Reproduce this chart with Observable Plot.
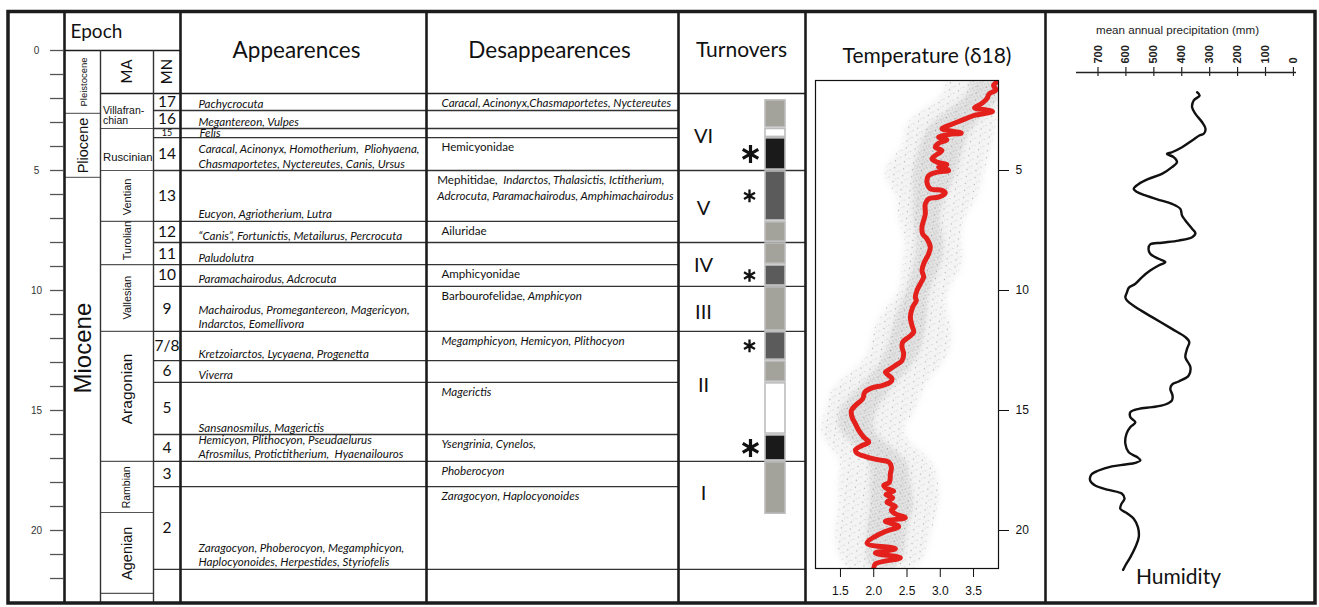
<!DOCTYPE html>
<html><head><meta charset="utf-8">
<script src="https://cdn.jsdelivr.net/npm/d3@7"></script>
<script src="https://cdn.jsdelivr.net/npm/@observablehq/plot@0.6"></script>
<style>
html,body{margin:0;padding:0;background:#fff;}
#wrap{position:relative;width:1319px;height:607px;overflow:hidden;}
#wrap > svg{position:absolute;top:0;}
</style></head><body>
<svg width="0" height="0" style="position:absolute">
 <defs>
  <pattern id="speckle" width="9" height="7" patternUnits="userSpaceOnUse" patternTransform="rotate(7)">
    <circle cx="1.5" cy="1.5" r="0.65" fill="#555" opacity="0.42"/>
    <circle cx="6" cy="4.5" r="0.6" fill="#666" opacity="0.38"/>
    <circle cx="3.5" cy="5.8" r="0.5" fill="#777" opacity="0.32"/>
  </pattern>
  <pattern id="speckle2" width="5" height="4" patternUnits="userSpaceOnUse" patternTransform="rotate(23)">
    <circle cx="1" cy="1" r="0.6" fill="#444" opacity="0.38"/>
    <circle cx="3.5" cy="3" r="0.55" fill="#555" opacity="0.33"/>
  </pattern>
 </defs>
</svg>
<div id="wrap"></div>
<script>
// ---------------- DATA ----------------
const maTicks = [0,1,2,3,4,5,6,7,8,9,10,11,12,13,14,15,16,17,18,19,20,21,22];
const maTickLabels = [0,5,10,15,20];

const epochNames = ["Pleistocene","Pliocene","Miocene"];
const epochBounds = [0, 2.62, 5.29, 23.1];
const epochLabelAt = [1.31, 3.96, 12.4];

const stageNames = ["Villafran-\nchian","Ruscinian","Ventian","Turolian","Vallesian","Aragonian","Rambian","Agenian"];
const stageBounds = [1.79, 3.25, 5.0, 7.12, 8.92, 11.7, 17.12, 19.25, 22.62];
const stageLabelAt = [2.71, 4.46, 6.1, 7.92, 10.3, 14.1, 18.2, 20.95];

const mnNames = ["17","16","15","14","13","12","11","10","9","7/8","6","5","4","3","2",""];
const mnBounds = [1.79, 2.5, 3.25, 3.63, 5.0, 7.12, 8.0, 8.92, 9.83, 11.7, 12.92, 13.83, 16.0, 17.12, 18.17, 21.62, 23.1];

const appearances = [
 "Pachycrocuta",
 "Megantereon, Vulpes",
 "Felis",
 "Caracal, Acinonyx, Homotherium,  Pliohyaena,\nChasmaportetes, Nyctereutes, Canis, Ursus",
 "Eucyon, Agriotherium, Lutra",
 "\u201cCanis\u201d, Fortunictis, Metailurus, Percrocuta",
 "Paludolutra",
 "Paramachairodus, Adcrocuta",
 "Machairodus, Promegantereon, Magericyon,\nIndarctos, Eomellivora",
 "Kretzoiarctos, Lycyaena, Progenetta",
 "Viverra",
 "Sansanosmilus, Magerictis",
 "Hemicyon, Plithocyon, Pseudaelurus\nAfrosmilus, Protictitherium,  Hyaenailouros",
 "",
 "Zaragocyon, Phoberocyon, Megamphicyon,\nHaplocyonoides, Herpestides, Styriofelis",
 ""
];
const disappearances = [
 "Caracal, Acinonyx,Chasmaportetes, Nyctereutes",
 "",
 "",
 "Hemicyonidae",
 "Mephitidae,  Indarctos, Thalasictis, Ictitherium,\nAdcrocuta, Paramachairodus, Amphimachairodus",
 "Ailuridae",
 "",
 "Amphicyonidae",
 "Barbourofelidae, Amphicyon",
 "Megamphicyon, Hemicyon, Plithocyon",
 "",
 "Magerictis",
 "Ysengrinia, Cynelos,",
 "Phoberocyon",
 "Zaragocyon, Haplocyonoides",
 ""
];

const turnoverNames = ["VI","V","IV","III","II","I"];
const turnoverBounds = [1.79, 5.0, 8.0, 9.83, 11.7, 17.12, 21.62];
const turnoverLabelAt = [3.6, 6.6, 8.95, 10.9, 13.95, 18.45];

const turnoverLevels = ["low","moderate","elevated","high"];
const boxStart = [2.08, 3.27, 3.66, 5.04, 7.16, 8.04, 8.96, 9.87, 11.74, 12.96, 13.87, 16.04, 17.16];
const boxEnd   = [3.2, 3.6, 4.96, 7.08, 7.96, 8.88, 9.79, 11.66, 12.88, 13.79, 15.96, 17.08, 19.3];
const boxLevel = ["moderate","low","high","elevated","moderate","moderate","elevated","moderate","elevated","moderate","low","high","moderate"];

// Temperature (delta 18O) smoothed curve: [Ma, d18O]
const temperatureCurve = [
 [1.28,3.865],[1.46,3.80],[1.64,3.835],[1.81,3.735],[2.01,3.70],[2.25,3.60],[2.39,3.515],[2.47,3.675],
 [2.54,3.785],[2.64,3.65],[2.71,3.50],[2.85,3.375],[2.99,3.25],[3.125,3.125],[3.26,3.025],[3.36,3.175],
 [3.44,3.315],[3.5,3.125],[3.61,2.975],[3.72,3.10],[3.86,2.975],[4.03,2.925],[4.17,3.025],[4.33,2.95],
 [4.51,2.875],[4.65,2.95],[4.75,3.10],[4.86,2.975],[4.93,3.075],[5.0,3.125],[5.07,2.95],[5.21,2.825],
 [5.49,2.80],[5.76,2.85],[5.83,3.025],[5.94,3.075],[6.11,2.975],[6.18,2.825],[6.39,2.775],[6.81,2.775],
 [7.08,2.75],[7.36,2.725],[7.64,2.735],[7.85,2.80],[8.19,2.85],[8.47,2.825],[8.89,2.75],[9.17,2.725],
 [9.44,2.75],[9.72,2.70],[10.0,2.65],[10.28,2.625],[10.42,2.64],[10.69,2.585],[11.11,2.55],[11.46,2.575],
 [11.74,2.60],[11.94,2.525],[12.15,2.435],[12.36,2.425],[12.64,2.45],[12.92,2.425],[13.125,2.325],[13.31,2.225],
 [13.40,2.175],[13.68,2.275],[13.82,2.25],[13.96,2.125],[14.06,1.975],[14.24,1.865],[14.51,1.835],[14.79,1.725],
 [15.0,1.665],[15.28,1.675],[15.56,1.725],[15.83,1.775],[16.11,1.85],[16.32,1.925],[16.46,1.825],[16.64,1.725],
 [16.78,1.75],[16.92,1.875],[17.06,2.075],[17.15,2.225],[17.36,2.265],[17.64,2.25],[17.99,2.235],[18.125,2.15],
 [18.26,2.20],[18.36,2.30],[18.5,2.185],[18.64,2.285],[18.82,2.20],[19.0,2.325],[19.14,2.265],[19.31,2.325],
 [19.47,2.475],[19.61,2.175],[19.83,2.375],[20.07,2.15],[20.53,1.90],[20.76,2.325],[20.94,2.025],[21.14,2.40],
 [21.39,2.025],[21.6,2.0]
];
// scatter cloud extent (outer) and dense core, by Ma
const cloudMa = [1.25,2,3,4,5,6,7,8,9,10,11,12,13,14,15,16,17,18,19,20,21,21.58];
const cloudLo = [3.075,2.975,2.525,2.425,2.175,2.325,2.375,2.475,2.425,2.375,2.125,1.975,1.825,1.425,1.275,1.225,1.475,1.475,1.475,1.425,1.475,1.625];
const cloudHi = [3.875,3.875,3.85,3.775,3.675,3.575,3.375,3.325,3.325,3.125,3.125,3.175,3.05,2.775,2.625,2.475,2.825,2.975,2.975,2.875,2.775,2.625];
const coreLo  = [3.45,3.35,2.9,2.7,2.6,2.6,2.6,2.65,2.6,2.5,2.35,2.25,2.1,1.8,1.5,1.55,1.9,1.95,1.95,1.9,1.9,1.95];
const coreHi  = [3.875,3.875,3.55,3.35,3.25,3.1,3.0,3.05,3.0,2.85,2.8,2.75,2.6,2.3,2.05,2.05,2.45,2.55,2.6,2.5,2.45,2.3];
const tempTicks = [1.5,2.0,2.5,3.0,3.5];
const tempAgeTicks = [5,10,15,20];

// Mean annual precipitation curve: [Ma, mm]
const precipitationCurve = [
 [1.74,345],[1.875,336],[2.08,357],[2.36,363],[2.64,351],[2.99,327],[3.26,315],[3.47,321],[3.54,337],[3.75,363],
 [4.03,399],[4.24,435],[4.31,453],[4.44,429],[4.65,417],[4.86,435],[5.14,471],[5.35,519],[5.56,554],[5.76,572],
 [5.90,560],[6.04,530],[6.22,483],[6.39,435],[6.60,405],[6.875,399],[7.08,387],[7.43,363],[7.61,351],[7.78,363],
 [7.92,411],[8.01,471],[8.08,513],[8.26,519],[8.47,513],[8.68,483],[8.82,459],[8.96,483],[9.17,513],[9.44,542],
 [9.72,566],[9.89,590],[10.07,596],[10.28,602],[10.42,596],[10.69,566],[11.11,506],[11.60,435],[11.94,387],[12.15,373],
 [12.43,381],[12.78,387],[13.19,369],[13.54,375],[13.79,411],[13.92,435],[14.10,441],[14.375,433],[14.58,435],[14.75,459],
 [14.86,506],[14.93,554],[15.07,584],[15.28,584],[15.49,566],[15.69,584],[15.97,598],[16.39,602],[16.74,590],[16.94,560],
 [17.08,548],[17.18,566],[17.25,602],[17.33,650],[17.5,698],[17.67,724],[17.92,728],[18.125,710],[18.31,662],[18.47,614],
 [18.68,605],[18.89,616],[19.10,620],[19.28,596],[19.51,572],[19.86,557],[20.28,554],[20.69,566],[21.11,584],[21.46,602],
 [21.64,610]
];
const precipTicks = [0,100,200,300,400,500,600,700];

// ---------------- LAYOUT ----------------
const W = 1319, H = 607;
const PX_PER_MA = 24, MA0_PX = 50;
const pxToMa = px => (px - MA0_PX) / PX_PER_MA;
const X = {tickL: 50, tickR: 63, epoch: 64, stage: 100, mn: 153, app: 180, dis: 426, turn: 678, temp: 805, prec: 1045, frameL: 8, frameR: 1315};
const FRAME_TOP = 11.5, FRAME_BOTTOM = 603;
const SANS = "Lato, 'Open Sans', sans-serif";
const ARIAL = "'Liberation Sans', Arial, sans-serif";
const INK = "#1c1c1c";

const epochs = epochNames.map((name, i) => ({name, start: epochBounds[i], end: epochBounds[i+1], at: epochLabelAt[i]}));
const stages = stageNames.map((name, i) => ({name, start: stageBounds[i], end: stageBounds[i+1], at: stageLabelAt[i]}));
const mnRows = mnNames.map((mn, i) => ({mn, start: mnBounds[i], end: mnBounds[i+1], app: appearances[i], dis: disappearances[i]}));
const turnovers = turnoverNames.map((name, i) => ({name, start: turnoverBounds[i], end: turnoverBounds[i+1], at: turnoverLabelAt[i]}));
const boxes = boxLevel.map((level, i) => ({level, start: boxStart[i], end: boxEnd[i]}));
const rowPx = d => (d.end - d.start) * PX_PER_MA;
const mid = d => (d.start + d.end) / 2;

const epochFont = {Pleistocene: 9.5, Pliocene: 14.5, Miocene: 24};
const stageFont = {"Villafran-\nchian": 10.5, Ruscinian: 11.3, Ventian: 11, Turolian: 11, Vallesian: 11, Aragonian: 15.5, Rambian: 10.5, Agenian: 14.5};
const horizontalStages = new Set(["Villafran-\nchian", "Ruscinian"]);

const yFull = {domain: [pxToMa(0), pxToMa(H)], range: [0, H], axis: null};
const frameBox = {x1: X.frameL, x2: X.frameR, y1: pxToMa(FRAME_TOP), y2: pxToMa(FRAME_BOTTOM)};

const table = Plot.plot({
  width: W, height: H, margin: 0,
  style: {background: "transparent", fontFamily: SANS, overflow: "visible"},
  x: {domain: [0, W], range: [0, W], axis: null},
  y: yFull,
  color: {domain: turnoverLevels, range: ["#ffffff", "#a3a29b", "#5b5b5b", "#1b1a1a"]},
  marks: [
    Plot.rect([0], {...frameBox, fill: "#fff"}),
    // horizontal grid
    Plot.ruleY([0], {x1: X.epoch, x2: X.app, stroke: INK, strokeWidth: 1.4}),
    Plot.ruleY([mnBounds[0]], {x1: X.stage, x2: X.temp, stroke: INK, strokeWidth: 1.6}),
    Plot.ruleY(epochBounds.slice(1, -1), {x1: X.epoch, x2: X.stage, stroke: "#6b6b6b", strokeWidth: 1.2}),
    Plot.ruleY(stageBounds.slice(1), {x1: X.stage, x2: X.mn, stroke: "#555", strokeWidth: 1.2}),
    Plot.ruleY(mnBounds.slice(1, -1), {x1: X.mn, x2: X.turn, stroke: "#333", strokeWidth: 1.3}),
    Plot.ruleY(turnoverBounds.slice(1), {x1: X.turn, x2: X.temp, stroke: "#333", strokeWidth: 1.3}),
    // vertical grid
    Plot.ruleX([X.stage, X.mn], {y1: 0, y2: pxToMa(FRAME_BOTTOM), stroke: "#333", strokeWidth: 1.4}),
    Plot.ruleX([X.epoch, X.app, X.dis, X.turn, X.temp, X.prec], {y1: pxToMa(FRAME_TOP), y2: pxToMa(FRAME_BOTTOM), stroke: INK, strokeWidth: 2.6}),
    Plot.rect([0], {...frameBox, fill: "none", stroke: INK, strokeWidth: 3.5}),
    // Ma axis
    Plot.ruleY(maTicks, {x1: X.tickL, x2: X.tickR, stroke: "#555", strokeWidth: 1.3}),
    Plot.text(maTickLabels, {x: 36, y: d => d, text: d => `${d}`, fontFamily: ARIAL, fontSize: 10, fill: "#333"}),
    // headers
    Plot.text(["Epoch"], {x: 70, y: pxToMa(31), text: d => d, textAnchor: "start", fontSize: 19, fill: "#111"}),
    Plot.text(["MA"], {x: 126.5, y: pxToMa(71), text: d => d, rotate: -90, fontSize: 15, fill: "#111"}),
    Plot.text(["MN"], {x: 166.5, y: pxToMa(71), text: d => d, rotate: -90, fontSize: 15, fill: "#111"}),
    Plot.text(["Appearences"], {x: 296, y: pxToMa(50), text: d => d, fontSize: 22.5, fill: "#111"}),
    Plot.text(["Desappearences"], {x: 549, y: pxToMa(50), text: d => d, fontSize: 22.5, fill: "#111"}),
    Plot.text(["Turnovers"], {x: 741, y: pxToMa(50), text: d => d, fontSize: 21, fill: "#111"}),
    // epochs
    Plot.text(epochs, {x: 83, y: "at", text: "name", rotate: -90, fontFamily: ARIAL, fontSize: d => epochFont[d.name], fill: "#111"}),
    // stages
    Plot.text(stages.filter(d => !horizontalStages.has(d.name)), {x: 126.5, y: "at", text: "name", rotate: -90, fontFamily: ARIAL, fontSize: d => stageFont[d.name], fill: "#111"}),
    Plot.text(stages.filter(d => horizontalStages.has(d.name)), {x: 102.5, y: "at", text: "name", textAnchor: "start", lineHeight: 0.95, fontFamily: ARIAL, fontSize: d => stageFont[d.name], fill: "#111"}),
    // MN zones
    Plot.text(mnRows.filter(d => d.mn), {x: 166.5, y: mid, text: "mn", fontSize: d => rowPx(d) < 12 ? 9 : 15.5, fill: "#111"}),
    // appearances
    Plot.text(mnRows.filter(d => d.app && rowPx(d) >= 12), {x: 198, y: "end", dy: -3, text: "app", textAnchor: "start", lineAnchor: "bottom", lineHeight: 1.25, fontStyle: "italic", fontSize: 11.6, fill: "#111"}),
    Plot.text(mnRows.filter(d => d.app && rowPx(d) < 12), {x: 199, y: mid, text: "app", textAnchor: "start", fontStyle: "italic", fontSize: 11.6, fill: "#111"}),
    // disappearances
    Plot.text(mnRows.filter(d => d.dis), {x: 441, y: "start", dy: 2, text: "dis", textAnchor: "start", lineAnchor: "top", lineHeight: 1.4, fontStyle: "italic", fontSize: 11.6, fill: "#111"}),
    // turnover intensity boxes
    Plot.rect(boxes, {x1: 765, x2: 785, y1: "start", y2: "end", fill: "level", stroke: "#bdbdbd", strokeWidth: 1.6}),
    Plot.dot(boxes.filter(d => d.level === "high"), {x: 750, y: mid, symbol: "asterisk", r: 8.5, stroke: "#111", strokeWidth: 3.2}),
    Plot.dot(boxes.filter(d => d.level === "elevated"), {x: 749, y: mid, symbol: "asterisk", r: 6, stroke: "#111", strokeWidth: 2.3}),
    Plot.text(turnovers, {x: 703, y: "at", text: "name", fontSize: 20, fill: "#111"})
  ]
});

const tempData = temperatureCurve.map(([ma, d18]) => ({ma, d18}));
const cloud = cloudMa.map((ma, i) => ({ma, lo: cloudLo[i], hi: cloudHi[i], clo: coreLo[i], chi: coreHi[i]}));

const temperature = Plot.plot({
  width: 240, height: H, marginLeft: 10, marginRight: 47, marginTop: 80, marginBottom: 39,
  style: {background: "transparent", fontFamily: ARIAL, fontSize: "12px", color: "#111", overflow: "visible"},
  x: {domain: [1.125, 3.875], ticks: tempTicks, tickFormat: d3.format(".1f"), tickSize: 9, tickPadding: 9, label: null},
  y: {domain: [pxToMa(80), pxToMa(568)], range: [80, 568], axis: "right", ticks: tempAgeTicks, tickSize: 10, tickPadding: 7, label: null},
  marks: [
    Plot.areaX(cloud, {y: "ma", x1: "lo", x2: "hi", fill: "#8a8a8a", fillOpacity: 0.09, curve: "natural", clip: true}),
    Plot.areaX(cloud, {y: "ma", x1: "lo", x2: "hi", fill: "url(#speckle)", curve: "natural", clip: true}),
    Plot.areaX(cloud, {y: "ma", x1: "clo", x2: "chi", fill: "#808080", fillOpacity: 0.14, curve: "natural", clip: true}),
    Plot.areaX(cloud, {y: "ma", x1: "clo", x2: "chi", fill: "url(#speckle2)", curve: "natural", clip: true}),
    Plot.line(tempData, {x: "d18", y: "ma", stroke: "#e3201c", strokeWidth: 5, curve: "catmull-rom", clip: true}),
    Plot.frame({stroke: "#111", strokeWidth: 1.2}),
    Plot.text(["Temperature (\u03b418)"], {frameAnchor: "top", dy: -32, dx: 20, text: d => d, fontSize: 21, fontFamily: SANS, fill: "#111"})
  ]
});

const precipData = precipitationCurve.map(([ma, mm]) => ({ma, mm}));
const precipTop = pxToMa(72);
const precipitation = Plot.plot({
  width: 274, height: H, marginLeft: 31, marginRight: 23, marginTop: 72, marginBottom: 0,
  style: {background: "transparent", fontFamily: ARIAL, overflow: "visible"},
  x: {domain: [777, -11], axis: null},
  y: {domain: [precipTop, pxToMa(H)], range: [72, H], axis: null},
  marks: [
    Plot.ruleY([precipTop], {stroke: "#222", strokeWidth: 1.3}),
    Plot.ruleX(precipTicks, {y1: pxToMa(67), y2: pxToMa(76), stroke: "#222", strokeWidth: 1.2}),
    Plot.text(precipTicks, {x: d => d, y: precipTop, dy: -9, rotate: -90, textAnchor: "start", text: d => `${d}`, fontWeight: "bold", fontSize: 11, fill: "#222"}),
    Plot.line(precipData, {x: "mm", y: "ma", stroke: "#111", strokeWidth: 2.4, curve: "catmull-rom"}),
    Plot.text(["mean annual precipitation (mm)"], {frameAnchor: "top", dy: -47, dx: -9, text: d => d, fontSize: 11.6, fill: "#222"}),
    Plot.text(["Humidity"], {frameAnchor: "bottom", dy: -24, dx: -8, text: d => d, fontSize: 21, fontFamily: SANS, fill: "#111"})
  ]
});

const wrap = document.getElementById("wrap");
table.style.left = "0px";
temperature.style.left = X.temp + "px";
precipitation.style.left = X.prec + "px";
wrap.append(table, temperature, precipitation);

// soften the edges of the scatter-cloud bands
temperature.querySelectorAll('g[fill="#8a8a8a"] path, g[fill="#808080"] path').forEach(p => { p.style.filter = "blur(3px)"; });

// family names (…idae) upright, genera italic
const NS = "http://www.w3.org/2000/svg";
table.querySelectorAll("text").forEach(t => {
  if (!/idae/.test(t.textContent)) return;
  const targets = t.querySelector("tspan") ? [...t.querySelectorAll("tspan")] : [t];
  for (const el of targets) {
    const parts = el.textContent.split(/([A-Z][a-z]+idae)/);
    if (parts.length === 1) continue;
    el.textContent = "";
    parts.forEach((p, i) => {
      if (!p) return;
      const ts = document.createElementNS(NS, "tspan");
      ts.textContent = p;
      ts.setAttribute("font-style", i % 2 ? "normal" : "italic");
      el.appendChild(ts);
    });
  }
});
// keep long lines inside their column
table.querySelectorAll("text").forEach(t => {
  const r = t.getBoundingClientRect();
  for (const [l, rr] of [[X.app, X.dis], [X.dis, X.turn]]) {
    if (r.left > l && r.left < rr && r.right > rr - 4) {
      const shift = r.right - (rr - 4);
      t.setAttribute("transform", `translate(${-shift},0) ` + (t.getAttribute("transform") || ""));
    }
  }
});
</script>
</body></html>
